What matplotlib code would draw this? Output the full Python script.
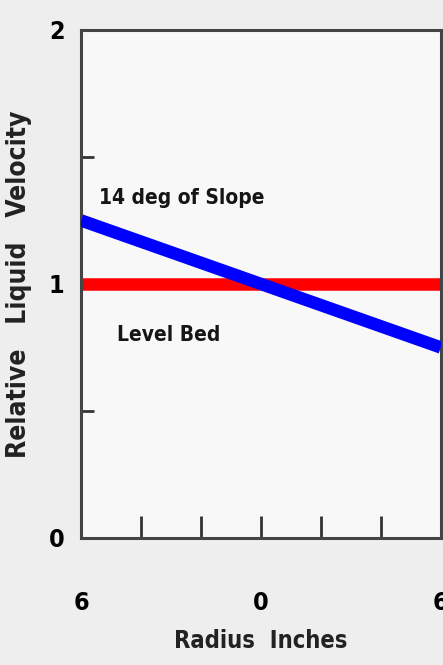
import matplotlib.pyplot as plt
from matplotlib.ticker import MultipleLocator

# Daten
radius = [-6, 6]
level_bed = [1.0, 1.0]
slope_14deg = [1.25, 0.75]

x_ticks = [-6, 0, 6]
x_ticklabels = ["6", "0", "6"]
y_ticks = [0, 1, 2]
y_ticklabels = ["0", "1", "2"]

plt.rcParams['font.family'] = ['DejaVu Sans']
plt.rcParams['font.stretch'] = 'condensed'
plt.rcParams['font.weight'] = 'bold'

fig = plt.figure(figsize=(4.43, 6.65), dpi=100, facecolor="#eeeeee")
ax = fig.add_axes([0.183, 0.191, 0.812, 0.764], facecolor="#f8f8f8")

ax.plot(radius, level_bed, color="#ff0000", lw=9, solid_capstyle="butt", zorder=2)
ax.plot(radius, slope_14deg, color="#0000ff", lw=9, solid_capstyle="butt", zorder=3)

ax.text(-5.4, 1.34, "14 deg of Slope", fontsize=15, va="center", ha="left", color="#151515")
ax.text(-4.8, 0.80, "Level Bed", fontsize=15, va="center", ha="left", color="#151515")

ax.set_xlim(-6, 6)
ax.set_ylim(0, 2)
ax.set_xticks(x_ticks)
ax.set_xticklabels(x_ticklabels)
ax.set_yticks(y_ticks)
ax.set_yticklabels(y_ticklabels)
ax.xaxis.set_minor_locator(MultipleLocator(2))
ax.yaxis.set_minor_locator(MultipleLocator(0.5))

ax.tick_params(axis="x", which="both", direction="in", length=16, width=2,
               color="#333333", pad=38, labelsize=18)
ax.tick_params(axis="y", which="both", direction="in", length=9, width=2,
               color="#333333", pad=12, labelsize=18)

for s in ax.spines.values():
    s.set_linewidth(2.2)
    s.set_color("#444444")

ax.set_xlabel("Radius  Inches", fontsize=17, fontweight="bold", labelpad=10,
              color="#222222")
ax.set_ylabel("Relative   Liquid   Velocity", fontsize=19, fontweight="bold",
              labelpad=12, color="#222222")

plt.savefig("out.png", dpi=100, facecolor=fig.get_facecolor())
plt.close()
